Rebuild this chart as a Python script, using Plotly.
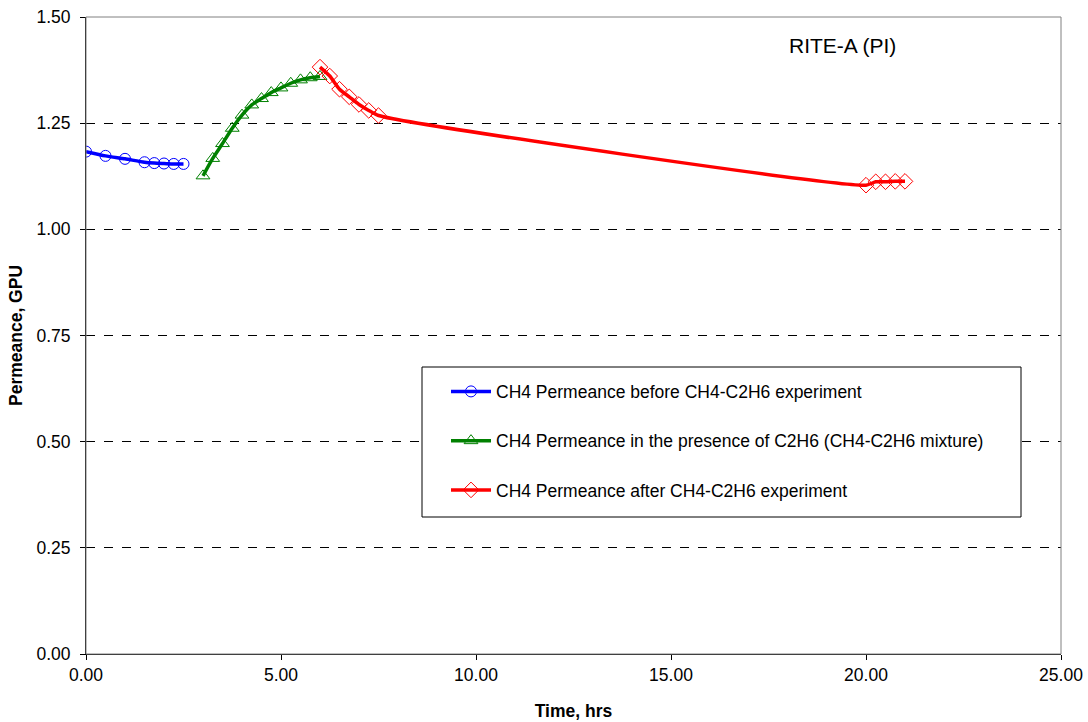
import plotly.graph_objects as go

# Data
before_t = [0.0, 0.5, 1.0, 1.5, 1.75, 2.0, 2.25, 2.5]
before_p = [1.183, 1.173, 1.166, 1.158, 1.156, 1.155, 1.154, 1.154]

during_t = [3.0, 3.25, 3.5, 3.75, 4.0, 4.25, 4.5, 4.75, 5.0, 5.25, 5.5, 5.75, 6.0]
during_p = [1.126, 1.167, 1.202, 1.238, 1.269, 1.293, 1.308, 1.322, 1.333, 1.344, 1.352, 1.357, 1.360]

after_t = [6.0, 6.25, 6.5, 6.75, 7.0, 7.25, 7.5, 20.0, 20.25, 20.5, 20.75, 21.0]
after_p = [1.382, 1.361, 1.330, 1.312, 1.294, 1.280, 1.268, 1.104, 1.112, 1.112, 1.113, 1.113]

names = [
    "CH4 Permeance before CH4-C2H6 experiment",
    "CH4 Permeance in the presence of C2H6 (CH4-C2H6 mixture)",
    "CH4 Permeance after CH4-C2H6 experiment",
]

x_ticks = [0, 5, 10, 15, 20, 25]
y_ticks = [0, 0.25, 0.5, 0.75, 1.0, 1.25, 1.5]

FONT = "Arial, Liberation Sans, sans-serif"

fig = go.Figure()
fig.add_trace(go.Scatter(
    x=before_t, y=before_p, name=names[0], mode="lines+markers",
    line=dict(color="#0000FF", width=3.5, shape="spline", smoothing=0.6),
    marker=dict(symbol="circle-open", size=11, color="#0000FF", line=dict(width=1)),
    legendgroup="a"))
fig.add_trace(go.Scatter(
    x=during_t, y=during_p, name=names[1], mode="lines+markers",
    line=dict(color="#008000", width=3.5, shape="spline", smoothing=0.6),
    marker=dict(symbol="triangle-up-open", size=12, color="#008000", line=dict(width=1)),
    legendgroup="b"))
fig.add_trace(go.Scatter(
    x=after_t, y=after_p, name=names[2], mode="lines+markers",
    line=dict(color="#FF0000", width=3.5, shape="spline", smoothing=0.6),
    marker=dict(symbol="diamond-open", size=12, color="#FF0000", line=dict(width=1)),
    legendgroup="c"))

fig.add_annotation(x=19.4, y=1.434, xref="x", yref="y", text="RITE-A (PI)",
                   showarrow=False, font=dict(family=FONT, size=21, color="black"))

# gray plot-area border (top/right)
fig.add_shape(type="rect", xref="paper", yref="paper", x0=0, y0=0, x1=1, y1=1,
              line=dict(color="#808080", width=1), layer="above")
# legend box
fig.add_shape(type="rect", xref="paper", yref="paper",
              x0=(422 - 86) / 975, x1=(1021 - 86) / 975,
              y0=(654 - 517) / 637, y1=(654 - 367) / 637,
              line=dict(color="black", width=1), fillcolor="white", layer="above")

fig.update_layout(
    width=1088, height=722,
    margin=dict(l=86, r=27, t=17, b=68),
    paper_bgcolor="white", plot_bgcolor="white",
    font=dict(family=FONT, size=17.5, color="black"),
    showlegend=True,
    legend=dict(
        x=(446 - 86) / 975, y=0.4403, xanchor="left", yanchor="top",
        borderwidth=0, bgcolor="rgba(0,0,0,0)",
        font=dict(family=FONT, size=17.5, color="black"),
        traceorder="grouped", tracegroupgap=23.5,
        itemwidth=40,
    ),
    xaxis=dict(
        range=[0, 25], tickvals=x_ticks, tickformat=".2f",
        showgrid=False, zeroline=False, automargin=False,
        showline=True, linecolor="black", linewidth=1,
        ticks="outside", ticklen=5, tickcolor="black",
        tickfont=dict(family=FONT, size=17.5),
        title=dict(text="<b>Time, hrs</b>", font=dict(family=FONT, size=17.5), standoff=20),
    ),
    yaxis=dict(
        range=[0, 1.5], tickvals=y_ticks, tickformat=".2f",
        showgrid=True, gridcolor="black", griddash="dash", gridwidth=1,
        zeroline=False, automargin=False,
        showline=True, linecolor="black", linewidth=1,
        ticks="outside", ticklen=5, tickcolor="black",
        ticklabelstandoff=6,
        tickfont=dict(family=FONT, size=17.5),
        title=dict(text="<b>Permeance, GPU</b>", font=dict(family=FONT, size=17.5), standoff=9),
    ),
)

fig.write_html("out.html")
